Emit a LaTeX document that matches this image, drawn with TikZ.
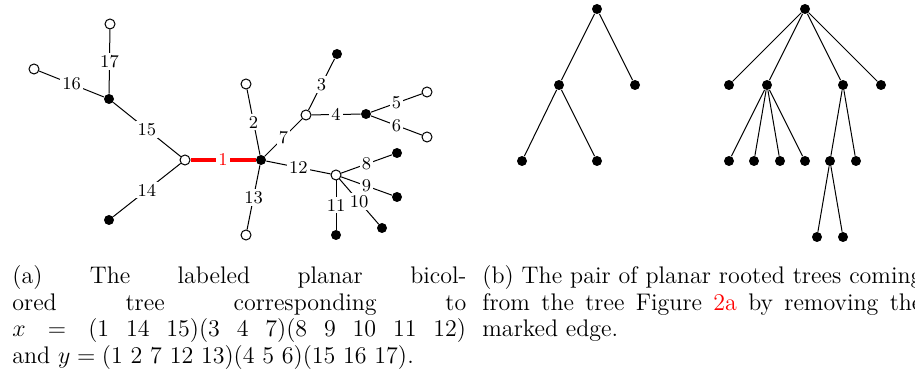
\documentclass[tikz,border=0pt]{standalone}
\begin{document}
\begin{tikzpicture}[x=0.5pt,y=-0.5pt,
  wn/.style={circle,draw,fill=white,inner sep=0pt,minimum size=5pt,line width=0.5pt},
  bn/.style={circle,fill=black,inner sep=0pt,minimum size=5pt},
  dot/.style={circle,fill=black,inner sep=0pt,minimum size=5pt},
  edge/.style={line width=0.5pt},
  redge/.style={red,line width=1.6pt},
  lab/.style={fill=white,inner sep=1pt,font=\fontsize{9}{10}\selectfont},
  captxt/.style={anchor=base west,inner sep=0pt,font=\fontsize{12}{13.2}\selectfont},
]
\clip (0,0) rectangle (915,379);
% ---------- left tree ----------
\node[wn] (w17) at (110,24) {};
\node[wn] (w16) at (34,69) {};
\node[bn] (bA) at (109,99) {};
\node[wn] (W) at (185,160) {};
\node[bn] (b14) at (109,220) {};
\node[bn] (B) at (261,160) {};
\node[wn] (w2) at (246,84) {};
\node[wn] (w13) at (246,235) {};
\node[wn] (C) at (306,115) {};
\node[bn] (b3) at (337,54) {};
\node[bn] (D) at (366,114) {};
\node[wn] (w5) at (427,92) {};
\node[wn] (w6) at (427,137) {};
\node[wn] (E) at (336,175) {};
\node[bn] (b8) at (397,153) {};
\node[bn] (b9) at (397,197) {};
\node[bn] (b10) at (382,228) {};
\node[bn] (b11) at (336,235) {};

\draw[edge] (bA) -- node[lab]{17} (w17);
\draw[edge] (bA) -- node[lab]{16} (w16);
\draw[edge] (bA) -- node[lab]{15} (W);
\draw[edge] (W) -- node[lab]{14} (b14);
\draw[redge] (W) -- node[lab,text=red]{1} (B);
\draw[edge] (B) -- node[lab]{2} (w2);
\draw[edge] (B) -- node[lab]{13} (w13);
\draw[edge] (B) -- node[lab]{7} (C);
\draw[edge] (C) -- node[lab]{3} (b3);
\draw[edge] (C) -- node[lab]{4} (D);
\draw[edge] (D) -- node[lab]{5} (w5);
\draw[edge] (D) -- node[lab]{6} (w6);
\draw[edge] (B) -- node[lab]{12} (E);
\draw[edge] (E) -- node[lab]{8} (b8);
\draw[edge] (E) -- node[lab]{9} (b9);
\draw[edge] (E) -- node[lab]{10} (b10);
\draw[edge] (E) -- node[lab]{11} (b11);

% ---------- right trees ----------
\node[dot] (r1) at (597,9) {};
\node[dot] (r1a) at (559,85) {};
\node[dot] (r1b) at (635,85) {};
\node[dot] (r1aa) at (522,161) {};
\node[dot] (r1ab) at (597,161) {};
\draw[edge] (r1) -- (r1a);
\draw[edge] (r1) -- (r1b);
\draw[edge] (r1a) -- (r1aa);
\draw[edge] (r1a) -- (r1ab);

\node[dot] (r2) at (805,9) {};
\node[dot] (c1) at (729,85) {};
\node[dot] (c2) at (767,85) {};
\node[dot] (c3) at (843,85) {};
\node[dot] (c4) at (881,85) {};
\node[dot] (g1) at (729,161) {};
\node[dot] (g2) at (754,161) {};
\node[dot] (g3) at (780,161) {};
\node[dot] (g4) at (805,161) {};
\node[dot] (g5) at (830,161) {};
\node[dot] (g6) at (856,161) {};
\node[dot] (h1) at (817,237) {};
\node[dot] (h2) at (843,237) {};
\foreach \c in {c1,c2,c3,c4} \draw[edge] (r2) -- (\c);
\foreach \g in {g1,g2,g3,g4} \draw[edge] (c2) -- (\g);
\foreach \g in {g5,g6} \draw[edge] (c3) -- (\g);
\foreach \h in {h1,h2} \draw[edge] (g5) -- (\h);

% ---------- captions ----------
\node[captxt] (capa) at (12,284) {\parbox[t]{227pt}{(a) The labeled planar bicol-\linebreak ored tree corresponding to\linebreak $x = (1\ 14\ 15)(3\ 4\ 7)(8\ 9\ 10\ 11\ 12)$\linebreak and $y = (1\ 2\ 7\ 12\ 13)(4\ 5\ 6)(15\ 16\ 17)$.}};
\node[captxt] (capb) at (482,284) {\parbox[t]{220pt}{(b) The pair of planar rooted trees coming\linebreak from the tree Figure \textcolor{red}{2a} by removing the\linebreak marked edge.}};
\end{tikzpicture}
\end{document}
